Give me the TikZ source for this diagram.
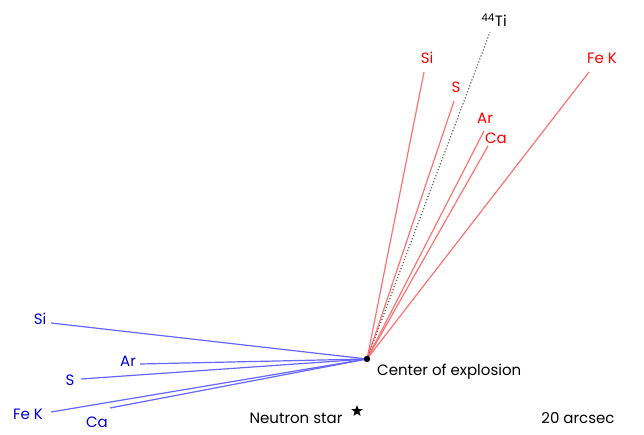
\documentclass[tikz,border=0pt]{standalone}
\usepackage{fontspec}
\setmainfont{Poppins}
\usepackage{tikz}
\usetikzlibrary{shapes.geometric}

\begin{document}
\begin{tikzpicture}[x=1pt,y=-1pt,every node/.style={font=\fontsize{15}{17}\selectfont,inner sep=1pt}]
  \useasboundingbox (0,0) rectangle (644,435);
  \tikzset{redline/.style={red!55,line width=1.2pt},blueline/.style={blue!60,line width=1.2pt},
    redlab/.style={text=red},bluelab/.style={text=blue!85!black}}
  \coordinate (c) at (367,359);
  % ejecta directions, red-shifted
  \coordinate (rSi) at (424,72);
  \coordinate (rS) at (454,101);
  \coordinate (rAr) at (484,131);
  \coordinate (rCa) at (488,146);
  \coordinate (rFe) at (589,72);
  \coordinate (ti) at (490,32);
  % ejecta directions, blue-shifted
  \coordinate (bSi) at (51,323);
  \coordinate (bAr) at (140,364);
  \coordinate (bS) at (81,379);
  \coordinate (bFe) at (51,412);
  \coordinate (bCa) at (110,408);
  \foreach \e in {Si,S,Ar,Ca,Fe}{\draw[blueline] (c)--(b\e);}
  \foreach \e in {Si,S,Ar,Ca,Fe}{\draw[redline] (c)--(r\e);}
  \draw[gray!80!black,dotted,line width=1.2pt] (c)--(ti);
  \fill (c) circle (3.2pt);
  \node[redlab] (lrSi) at (427,58) {Si};
  \node[redlab] (lrS) at (456,87) {S};
  \node[redlab] (lrAr) at (485,118) {Ar};
  \node[redlab] (lrCa) at (496,138) {Ca};
  \node[redlab] (lrFe) at (602,58) {Fe K};
  \node (lti) at (494,20) {\textsuperscript{44}Ti};
  \node[bluelab] (lbSi) at (40,319) {Si};
  \node[bluelab] (lbAr) at (128,361) {Ar};
  \node[bluelab] (lbS) at (70,380) {S};
  \node[bluelab] (lbFe) at (28,414) {Fe K};
  \node[bluelab] (lbCa) at (97,422) {Ca};
  \node[anchor=west] (lc) at (376,372) {Center of explosion};
  \node (ns) at (296,418) {Neutron star};
  \node[star,star points=5,star point ratio=2.4,fill=black,inner sep=0pt,minimum size=12pt] (star) at (357,411) {};
  \node (scale) at (578,418) {20 arcsec};
\end{tikzpicture}
\end{document}
